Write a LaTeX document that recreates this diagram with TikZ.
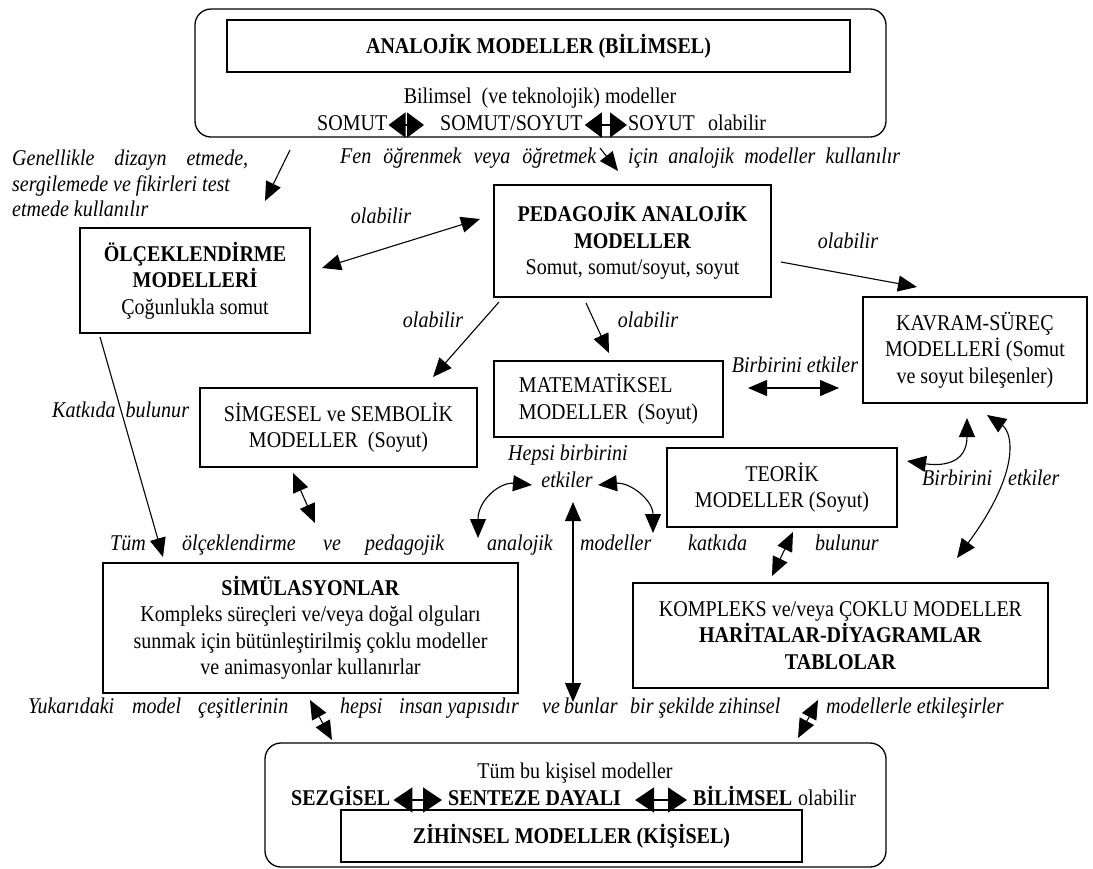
\documentclass[tikz,border=0pt]{standalone}
\usepackage{fontspec}
\setmainfont{Liberation Serif}[FakeStretch=0.89]
\usetikzlibrary{arrows.meta}
\newcommand{\fz}{\fontsize{22.5}{26.5}\selectfont}
\begin{document}
\begin{tikzpicture}[x=1pt,y=-1pt,
 every node/.style={font=\fz},
 box/.style={draw,line width=1.6pt,inner sep=0pt,align=center},
 rbox/.style={draw,line width=1.3pt,rounded corners=16pt,inner sep=0pt},
 lbl/.style={font=\fz\itshape,inner sep=0pt,text height=16pt,text depth=5pt},
 txt/.style={inner sep=0pt,text height=16pt,text depth=5pt},
 btxt/.style={txt,font=\fz\bfseries},
 arr/.style={line width=1.1pt,-{Triangle[length=19pt,width=16pt]}},
 darr/.style={line width=1.1pt,{Triangle[length=19pt,width=16pt]}-{Triangle[length=19pt,width=16pt]}},
 glyph/.style={line width=1.5pt,{Triangle[length=17pt,width=25pt]}-{Triangle[length=17pt,width=25pt]}},
 bglyph/.style={line width=1.5pt,{Triangle[length=19pt,width=25pt]}-{Triangle[length=19pt,width=25pt]}},
]
\useasboundingbox (0,0) rectangle (1093,868);

% ---------- top block
\node[rbox, minimum width=691pt, minimum height=128pt] (topouter) at (540.5,73) {};
\node[box, minimum width=623pt, minimum height=52pt, font=\fz\bfseries] (analog) at (538.5,46) {ANALOJİK MODELLER (BİLİMSEL)};
\node[txt] (bilimsel) at (540,98) {Bilimsel~ (ve teknolojik) modeller};
\node[txt,anchor=west] (somut) at (317,125) {SOMUT};
\node[txt,anchor=west] (somsoy) at (440,125) {SOMUT/SOYUT};
\node[txt,anchor=west] (soyut) at (628,125) {SOYUT};
\node[txt,anchor=west] (olab0) at (708,125) {olabilir};
\draw[glyph] ([xshift=1pt]somut.east) -- ([xshift=-16pt]somsoy.west);
\draw[glyph] ([xshift=2pt]somsoy.east) -- ([xshift=-1pt]soyut.west);

% ---------- labels near top
\node[lbl,anchor=west] (gen1) at (12,160) {\makebox[236pt][s]{Genellikle dizayn etmede,}};
\node[lbl,anchor=west] (gen2) at (12,186) {sergilemede ve fikirleri test};
\node[lbl,anchor=west] (gen3) at (12,211) {etmede kullanılır};
\node[lbl,anchor=west] (fen) at (340,158) {\makebox[256pt][s]{Fen öğrenmek veya öğretmek}};
\node[lbl,anchor=west] (icin) at (628,158) {\makebox[272pt][s]{için analojik modeller kullanılır}};

% ---------- boxes
\node[box, minimum width=277pt, minimum height=112pt] (ped) at (632.5,241)
  {\textbf{PEDAGOJİK ANALOJİK}\\\textbf{MODELLER}\\Somut, somut/soyut, soyut};
\node[box, minimum width=230pt, minimum height=105pt] (olc) at (195,280.5)
  {\textbf{ÖLÇEKLENDİRME}\\\textbf{MODELLERİ}\\Çoğunlukla somut};
\node[box, minimum width=224pt, minimum height=106pt] (kavram) at (975,350)
  {KAVRAM-SÜREÇ\\MODELLERİ (Somut\\ve soyut bileşenler)};
\node[box, minimum width=229pt, minimum height=76pt, align=left] (mat) at (608.5,399)
  {MATEMATİKSEL\\MODELLER~ (Soyut)};
\node[box, minimum width=277pt, minimum height=79pt] (simge) at (338.5,427.5)
  {SİMGESEL ve SEMBOLİK\\MODELLER~ (Soyut)};
\node[box, minimum width=230pt, minimum height=79pt] (teorik) at (782,487.5)
  {TEORİK\\MODELLER (Soyut)};
\node[box, minimum width=415pt, minimum height=130pt] (simul) at (310.5,628)
  {\textbf{SİMÜLASYONLAR}\\Kompleks süreçleri ve/veya doğal olguları\\sunmak için bütünleştirilmiş çoklu modeller\\ve animasyonlar kullanırlar};
\node[box, minimum width=415pt, minimum height=105pt] (kompleks) at (840.5,635.5)
  {KOMPLEKS ve/veya ÇOKLU MODELLER\\\textbf{HARİTALAR-DİYAGRAMLAR}\\\textbf{TABLOLAR}};

% ---------- bottom block
\node[rbox, minimum width=621pt, minimum height=124pt] (botouter) at (575.5,805) {};
\node[txt] (tumbu) at (575,773) {Tüm bu kişisel modeller};
\node[btxt,anchor=west] (sezgisel) at (291,800) {SEZGİSEL};
\node[btxt,anchor=west] (senteze) at (448,800) {SENTEZE DAYALI};
\node[btxt,anchor=west] (bilim) at (693,800) {BİLİMSEL};
\node[txt,anchor=west] (olabB) at (798,800) {olabilir};
\draw[bglyph] ([xshift=3pt]sezgisel.east) -- ([xshift=-6pt]senteze.west);
\draw[bglyph] ([xshift=14pt]senteze.east) -- ([xshift=-6pt]bilim.west);
\node[box, minimum width=461pt, minimum height=52pt, font=\fz\bfseries] (zihinsel) at (571.5,836) {ZİHİNSEL MODELLER (KİŞİSEL)};

% ---------- italic labels
\node[lbl] (ol1) at (381,218) {olabilir};
\node[lbl] (ol2) at (848,243) {olabilir};
\node[lbl] (ol3) at (433,322) {olabilir};
\node[lbl] (ol4) at (648,322) {olabilir};
\node[lbl] (be1) at (795,367) {Birbirini etkiler};
\node[lbl,anchor=west] (katkida) at (52,412) {Katkıda~ bulunur};
\node[lbl] (hepsi) at (568,455) {Hepsi birbirini};
\node[lbl] (hetk) at (567,482) {etkiler};
\node[lbl,anchor=west] (be2a) at (922,480) {Birbirini};
\node[lbl,anchor=west] (be2b) at (1008,480) {etkiler};

\node[lbl,anchor=west] (w1) at (110,545) {Tüm};
\node[lbl,anchor=west] (w2) at (182,545) {ölçeklendirme};
\node[lbl,anchor=west] (w3) at (323,545) {ve};
\node[lbl,anchor=west] (w4) at (365,545) {pedagojik};
\node[lbl,anchor=west] (w5) at (487,545) {analojik};
\node[lbl,anchor=west] (w6) at (580,545) {modeller};
\node[lbl,anchor=west] (w7) at (688,545) {katkıda};
\node[lbl,anchor=west] (w8) at (815,545) {bulunur};

\node[lbl,anchor=west] (y1) at (28,708) {Yukarıdaki};
\node[lbl,anchor=west] (y2) at (132,708) {model};
\node[lbl,anchor=west] (y3) at (198,708) {çeşitlerinin};
\node[lbl,anchor=west] (y4) at (340,708) {hepsi};
\node[lbl,anchor=west] (y5) at (399,708) {insan yapısıdır};
\node[lbl,anchor=west] (y6) at (542,708) {ve};
\node[lbl,anchor=west] (y7) at (564,708) {bunlar};
\node[lbl,anchor=west] (y8) at (630,708) {bir şekilde zihinsel};
\node[lbl,anchor=west] (y9) at (826,708) {modellerle etkileşirler};

% ---------- connector end points
\coordinate (a1s) at (290,150);  \coordinate (a1e) at (265,201);
\coordinate (a2s) at (600,148);  \coordinate (a2e) at (618,171);
\coordinate (a3s) at (322,268);  \coordinate (a3e) at (480,219);
\coordinate (a4s) at (781,262);  \coordinate (a4e) at (917,287);
\coordinate (a5s) at (499,302);  \coordinate (a5e) at (433,377);
\coordinate (a6s) at (586,303);  \coordinate (a6e) at (609,353);
\coordinate (a7s) at (748,388);  \coordinate (a7e) at (839,388);
\coordinate (a8s) at (100,337);  \coordinate (a8e) at (163,557);
\coordinate (a9s) at (293,473);  \coordinate (a9e) at (315,523);
\coordinate (b1s) at (478,538);  \coordinate (b1e) at (532,485);
\coordinate (b2s) at (598,485);  \coordinate (b2e) at (653,533);
\coordinate (b3s) at (573,502);  \coordinate (b3e) at (573,702);
\coordinate (b4s) at (907,461);  \coordinate (b4e) at (967,418);
\coordinate (b5s) at (987,415);  \coordinate (b5e) at (957,558);
\coordinate (b6s) at (793,532);  \coordinate (b6e) at (772,576);
\coordinate (b7s) at (310,700);  \coordinate (b7e) at (332,740);
\coordinate (b8s) at (818,700);  \coordinate (b8e) at (798,738);

% ---------- connectors
\draw[arr] (a1s) -- (a1e);
\draw[arr] (a2s) -- (a2e);
\draw[darr] (a3s) -- (a3e);
\draw[arr] (a4s) -- (a4e);
\draw[arr] (a5s) -- (a5e);
\draw[arr] (a6s) -- (a6e);
\draw[darr] (a7s) -- (a7e);
\draw[arr] (a8s) -- (a8e);
\draw[darr] (a9s) -- (a9e);
\draw[darr] (b1s) .. controls (478,500) and (500,482) .. (b1e);
\draw[darr] (b2s) .. controls (630,482) and (653,500) .. (b2e);
\draw[darr] (b3s) -- (b3e);
\draw[darr] (b4s) .. controls (940,466) and (967,465) .. (b4e);
\draw[darr] (b5s) .. controls (1012,432) and (1022,470) .. (b5e);
\draw[darr] (b6s) -- (b6e);
\draw[darr] (b7s) -- (b7e);
\draw[darr] (b8s) -- (b8e);
\end{tikzpicture}
\end{document}
